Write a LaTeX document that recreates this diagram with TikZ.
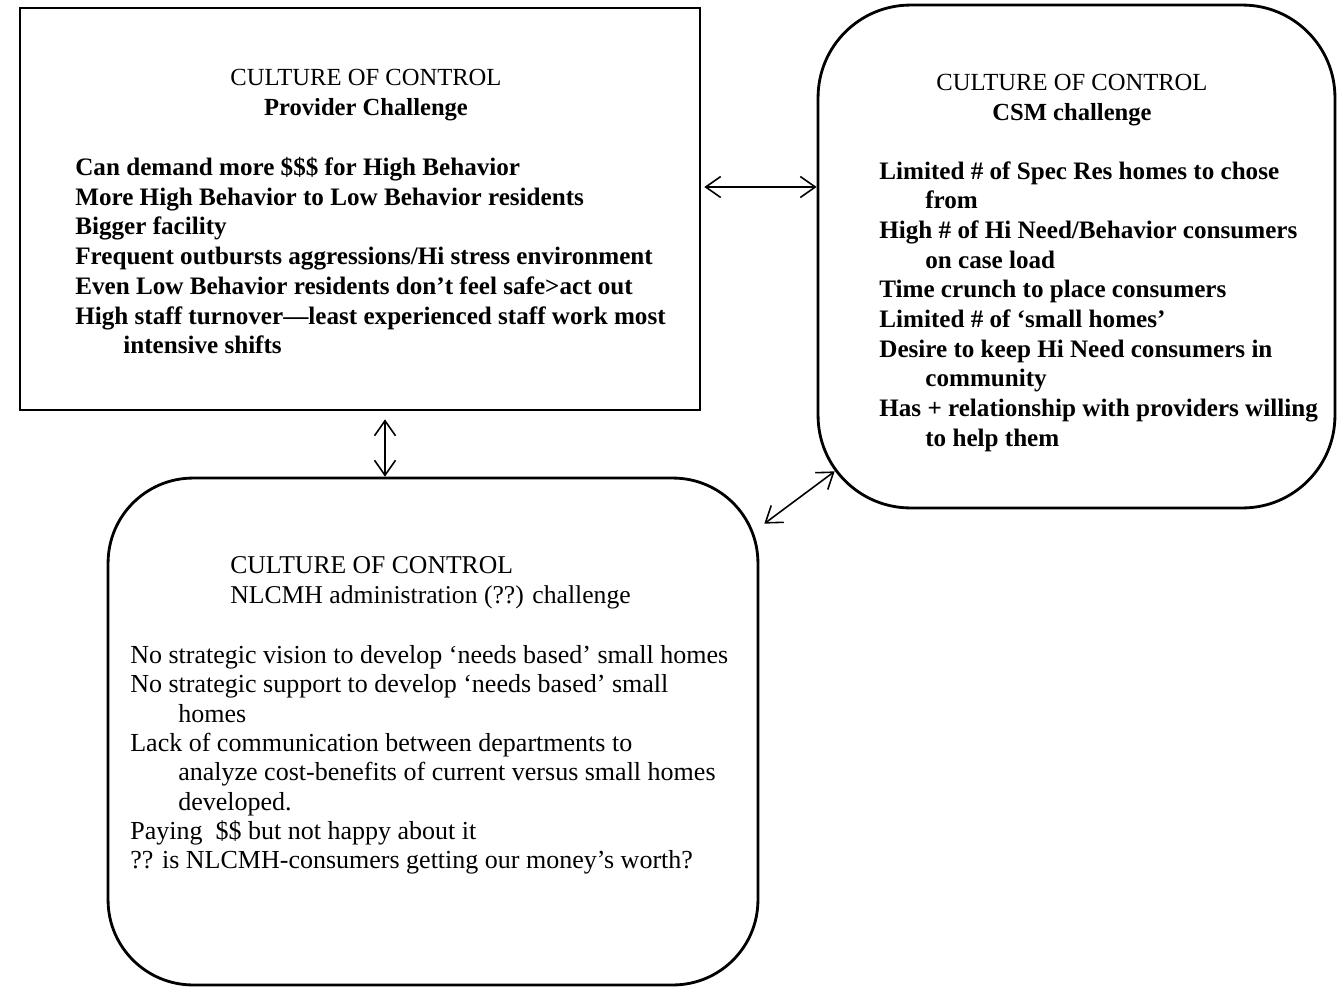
\documentclass[tikz,border=0pt]{standalone}
\usepackage{fontspec}
\setmainfont{Liberation Serif}
\usetikzlibrary{arrows.meta}

\begin{document}
\begin{tikzpicture}[x=0.02cm, y=-0.02cm, >={Straight Barb[length=3mm,width=4.2mm]},
  box/.style={draw, line width=1.6pt, inner sep=0pt},
  roundbox/.style={box, rounded corners=#1},
  roundbox/.default=1.75cm,
  title/.style={align=center, inner sep=0pt, font=\fontsize{14}{17}\selectfont},
  body/.style={align=left, anchor=north west, inner sep=0pt, font=\fontsize{14.3}{16.9}\selectfont\bfseries},
  link/.style={<->, line width=0.9pt}]

\useasboundingbox (0,0) rectangle (1338,987);

% the three challenge boxes
\node [box, minimum width=13.6cm, minimum height=8.04cm] (prov) at (360,209) {};
\node [roundbox=1.85cm, minimum width=10.34cm, minimum height=10.06cm] (csm) at (1076.5,256.5) {};
\node [roundbox=1.7cm, minimum width=13cm, minimum height=10.14cm] (nlc) at (433,731.5) {};

% provider
\node [title] (provT) at (366,95) {CULTURE OF CONTROL\\\textbf{Provider Challenge}};
\node [body] (provL) at (75,157) {Can demand more \$\$\$ for High Behavior\\
More High Behavior to Low Behavior residents\\
Bigger facility\\
Frequent outbursts aggressions/Hi stress environment\\
Even Low Behavior residents don’t feel safe>act out\\
High staff turnover—least experienced staff work most\\
\hspace*{0.96cm}intensive shifts};

% csm
\node [title] (csmT) at (1072,100) {CULTURE OF CONTROL\\\textbf{CSM challenge}};
\node [body] (csmL) at (879,161) {Limited \# of Spec Res homes to chose\\
\hspace*{0.92cm}from\\
High \# of Hi Need/Behavior consumers\\
\hspace*{0.92cm}on case load\\
Time crunch to place consumers\\
Limited \# of ‘small homes’\\
Desire to keep Hi Need consumers in\\
\hspace*{0.92cm}community\\
Has + relationship with providers willing\\
\hspace*{0.92cm}to help them};

% nlcmh
\node [title, align=left, anchor=west, font=\fontsize{14.6}{17.2}\selectfont] (nlcT) at (230,583) {CULTURE OF CONTROL\\NLCMH administration (??) challenge};
\node [body, font=\fontsize{14.8}{16.7}\selectfont] (nlcL) at (130,645) {No strategic vision to develop ‘needs based’ small homes\\
No strategic support to develop ‘needs based’ small\\
\hspace*{0.96cm}homes\\
Lack of communication between departments to\\
\hspace*{0.96cm}analyze cost-benefits of current versus small homes\\
\hspace*{0.96cm}developed.\\
Paying \ \$\$ but not happy about it\\
?? is NLCMH-consumers getting our money’s worth?};

\draw [link] ([shift={(3,-22)}]prov.east) -- ([shift={(0,-69.5)}]csm.west);
\draw [link] ([shift={(25,8)}]prov.south) -- ([shift={(-48,0)}]nlc.north);
\draw [link] ([shift={(18,-38)}]csm.south west) -- ([shift={(5,47)}]nlc.north east);

\end{tikzpicture}
\end{document}
